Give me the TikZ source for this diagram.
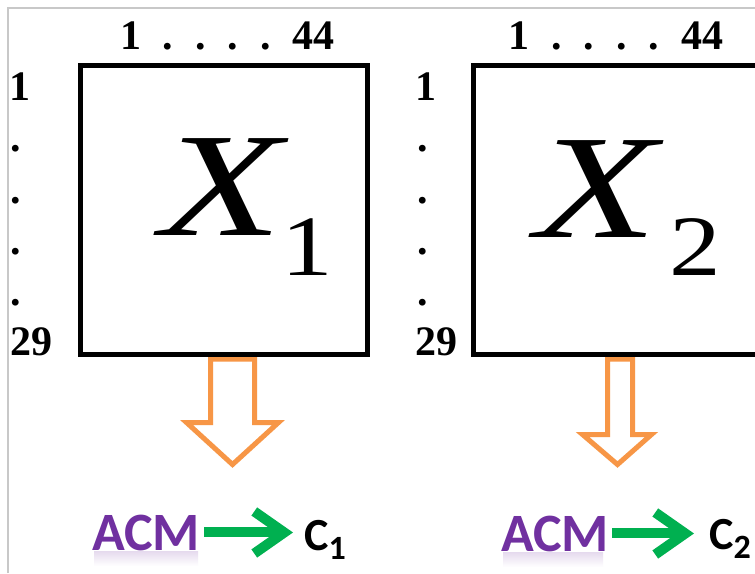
\documentclass[tikz,border=0pt]{standalone}
\usepackage{fontspec}
\setmainfont{Liberation Serif}
\newfontfamily\carl{Carlito}
\usetikzlibrary{arrows.meta}
\definecolor{borange}{HTML}{F79646}
\definecolor{acmpurple}{HTML}{7030A0}
\definecolor{agreen}{HTML}{00B050}
\definecolor{frame}{HTML}{C8C8C8}
\tikzset{
  numlab/.style={inner sep=0pt, font=\bfseries\fontsize{42}{42}\selectfont},
  matbox/.style={draw=black, line width=5pt, minimum width=287pt, minimum height=289pt, inner sep=0pt},
  bigx/.style={inner sep=0pt, font=\itshape\fontsize{148}{148}\selectfont},
  subx/.style={inner sep=0pt, font=\fontsize{86}{86}\selectfont},
  hollow/.style={draw=borange, line width=5pt, fill=white, line join=miter},
  acm/.style={inner sep=0pt, text=acmpurple, font=\carl\bfseries\fontsize{54}{54}\selectfont},
  glow/.style={top color=acmpurple!18, bottom color=white, draw=none},
  cnode/.style={inner sep=0pt, text=black, font=\carl\bfseries\fontsize{46}{46}\selectfont},
  garrow/.style={draw=agreen, line width=10pt, -{Straight Barb[length=30pt,width=42pt,line width=10pt]}},
}
\begin{document}
\begin{tikzpicture}[x=1pt,y=-1pt]
\useasboundingbox (0,0) rectangle (755,573);
\fill[white] (0,0) rectangle (755,573);
\draw[frame, line width=1.5pt] (8,573) -- (8,8) -- (755,8);

% hollow orange arrows
\draw[hollow] (210.5,359) -- (210.5,422.5) -- (186.5,422.5) -- (232.5,464.5) -- (278.5,422.5) -- (254.5,422.5) -- (254.5,359) -- cycle;
\draw[hollow] (607.5,359) -- (607.5,434.5) -- (582.5,434.5) -- (617.5,464.5) -- (651.5,434.5) -- (632.5,434.5) -- (632.5,359) -- cycle;

% boxes
\node[matbox] (b1) at (224,210) {};
\node[matbox] (b2) at (617,210) {};

% matrix contents
\node[bigx, anchor=base] (x1) at (222,235) {\scalebox{1.35}[1]{X}};
\node[subx, anchor=base] (s1) at (307.5,275) {\scalebox{1.2}[1]{1}};
\node[bigx, anchor=base] (x2) at (597,237) {\scalebox{1.35}[1]{X}};
\node[subx, anchor=base] (s2) at (695,275) {\scalebox{1.2}[1]{2}};

% column labels
\node[numlab, anchor=base] (t1) at (227.5,49) {1\hspace{22pt}.\hspace{22pt}.\hspace{22pt}.\hspace{22pt}.\hspace{22pt}44};
\node[numlab, anchor=base] (t2) at (616,49) {1\hspace{22pt}.\hspace{22pt}.\hspace{22pt}.\hspace{22pt}.\hspace{22pt}44};

% row labels
\node[numlab, anchor=base west] (ra1) at (9,100) {1};
\node[numlab, anchor=base west] (rb1) at (415,100) {1};
\foreach \yy in {151,203,254,305}{
  \node[numlab, anchor=base west] (ra\yy) at (10,\yy) {.};
  \node[numlab, anchor=base west] (rb\yy) at (417,\yy) {.};
}
\node[numlab, anchor=base west] (ra29) at (10,355) {29};
\node[numlab, anchor=base west] (rb29) at (415,355) {29};

% ACM -> C
\shade[glow] (94,551) rectangle (198,566);
\shade[glow] (503,552) rectangle (603,567);
\node[acm, anchor=base west] (acm1) at (92,550) {ACM};
\node[acm, anchor=base west] (acm2) at (501,551) {ACM};
\node[cnode, anchor=base west] (c1) at (304,550) {C\raisebox{-9pt}{\fontsize{34}{34}\selectfont 1}};
\node[cnode, anchor=base west] (c2) at (709,549) {C\raisebox{-9pt}{\fontsize{34}{34}\selectfont 2}};
\draw[garrow, shorten <=4pt, shorten >=11pt] (acm1.east) -- (acm1.east -| c1.west);
\draw[garrow, shorten <=3pt, shorten >=15pt] (acm2.east) -- (acm2.east -| c2.west);
\end{tikzpicture}
\end{document}
